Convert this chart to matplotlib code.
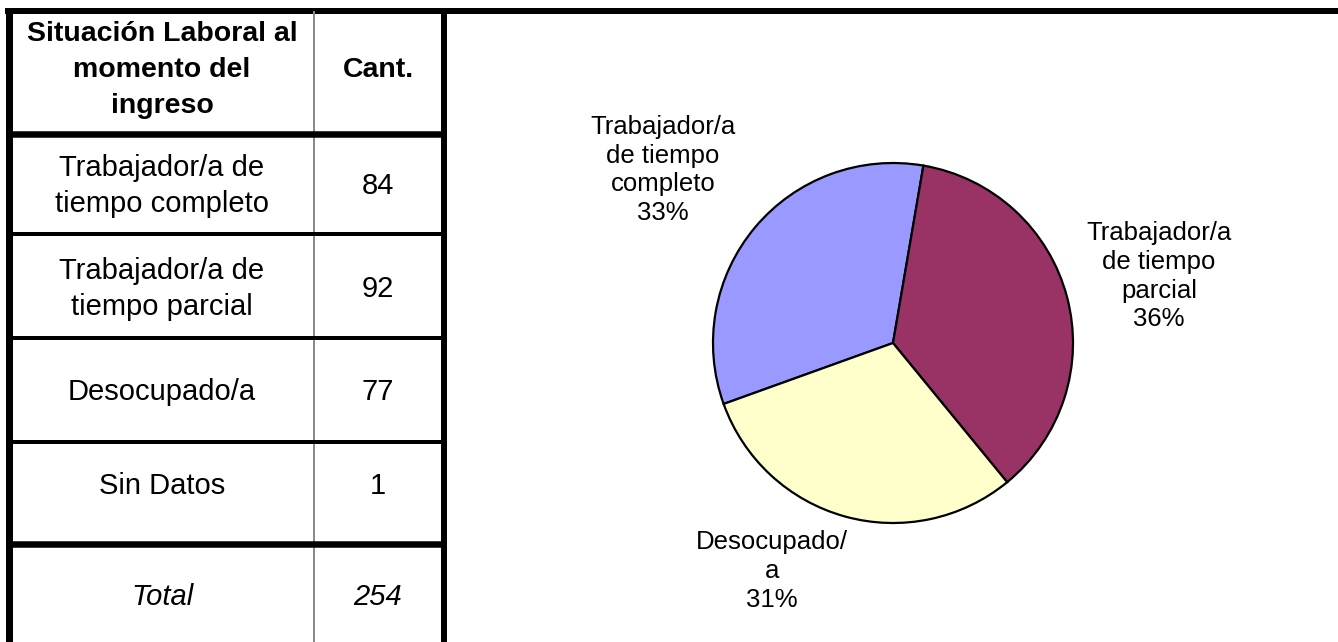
import numpy as np
import matplotlib as mpl
mpl.use('Agg')
import matplotlib.pyplot as plt

plt.rcParams['font.family'] = ['Liberation Sans', 'DejaVu Sans']

# table data
header = ["Situación Laboral al\nmomento del\ningreso", "Cant."]
categories = ["Trabajador/a de\ntiempo completo", "Trabajador/a de\ntiempo parcial",
              "Desocupado/a", "Sin Datos"]
counts = [84, 92, 77, 1]
total_label = "Total"
total = 254

# pie data (Sin Datos not drawn in the chart)
pie_labels = ["Trabajador/a\nde tiempo\ncompleto", "Trabajador/a\nde tiempo\nparcial", "Desocupado/\na"]
pie_values = [84, 92, 77]
pie_pct = ["33%", "36%", "31%"]
pie_colors = ["#9999FF", "#993366", "#FFFFCC"]

W, H = 1338, 642
fig = plt.figure(figsize=(W / 100, H / 100), dpi=100)

# background axes in pixel coordinates for the table frame
bg = fig.add_axes([0, 0, 1, 1])
bg.set_xlim(0, W)
bg.set_ylim(H, 0)
bg.axis('off')

px = 72 / 100  # pixels -> points
row_edges = [133.5, 234, 338, 442, 543.5, 642]
col_x = [8.5, 313.5, 443.5]

bg.plot([5, W], [11, 11], color='black', lw=6 * px, solid_capstyle='butt')
bg.plot([col_x[0], col_x[0]], [8, H], color='black', lw=7 * px, solid_capstyle='butt')
bg.plot([col_x[2], col_x[2]], [8, H], color='black', lw=6 * px, solid_capstyle='butt')
bg.plot([col_x[1], col_x[1]], [11, H], color='#8a8a8a', lw=2 * px, solid_capstyle='butt')
for i, y in enumerate(row_edges[:-1]):
    thick = 6.5 if i in (0, 4) else 4
    bg.plot([col_x[0], col_x[2]], [y, y], color='black', lw=thick * px, solid_capstyle='butt')

c1 = 162
c2 = 378
bg.text(c1, 70, header[0], ha='center', va='center', fontsize=20.5, fontweight='bold',
        linespacing=1.5)
bg.text(c2, 70, header[1], ha='center', va='center', fontsize=20.5, fontweight='bold')

row_y = [186, 289, 392, 486]
for y, cat, n in zip(row_y, categories, counts):
    bg.text(c1, y, cat, ha='center', va='center', fontsize=21, linespacing=1.38)
    bg.text(c2, y, str(n), ha='center', va='center', fontsize=21)
bg.text(c1, 597, total_label, ha='center', va='center', fontsize=21, style='italic')
bg.text(c2, 597, str(total), ha='center', va='center', fontsize=21, style='italic')

# pie chart
cx, cy, r = 893, 343, 180
ax = fig.add_axes([(cx - r) / W, (H - cy - r) / H, 2 * r / W, 2 * r / H])
wedges, texts = ax.pie(pie_values, colors=pie_colors, startangle=199.8, counterclock=False,
                       labels=[f"{l}\n{p}" for l, p in zip(pie_labels, pie_pct)],
                       wedgeprops=dict(edgecolor='black', linewidth=1.6),
                       textprops=dict(fontsize=18.5, linespacing=1.26))
label_pos = [(-1.278, 0.961), (1.478, 0.372), (-0.672, -1.267)]
for t, pos in zip(texts, label_pos):
    t.set_position(pos)
    t.set_ha('center')
    t.set_va('center')
ax.set_xlim(-1, 1)
ax.set_ylim(-1, 1)
ax.set_aspect('equal')

fig.savefig('out.png', dpi=100)
